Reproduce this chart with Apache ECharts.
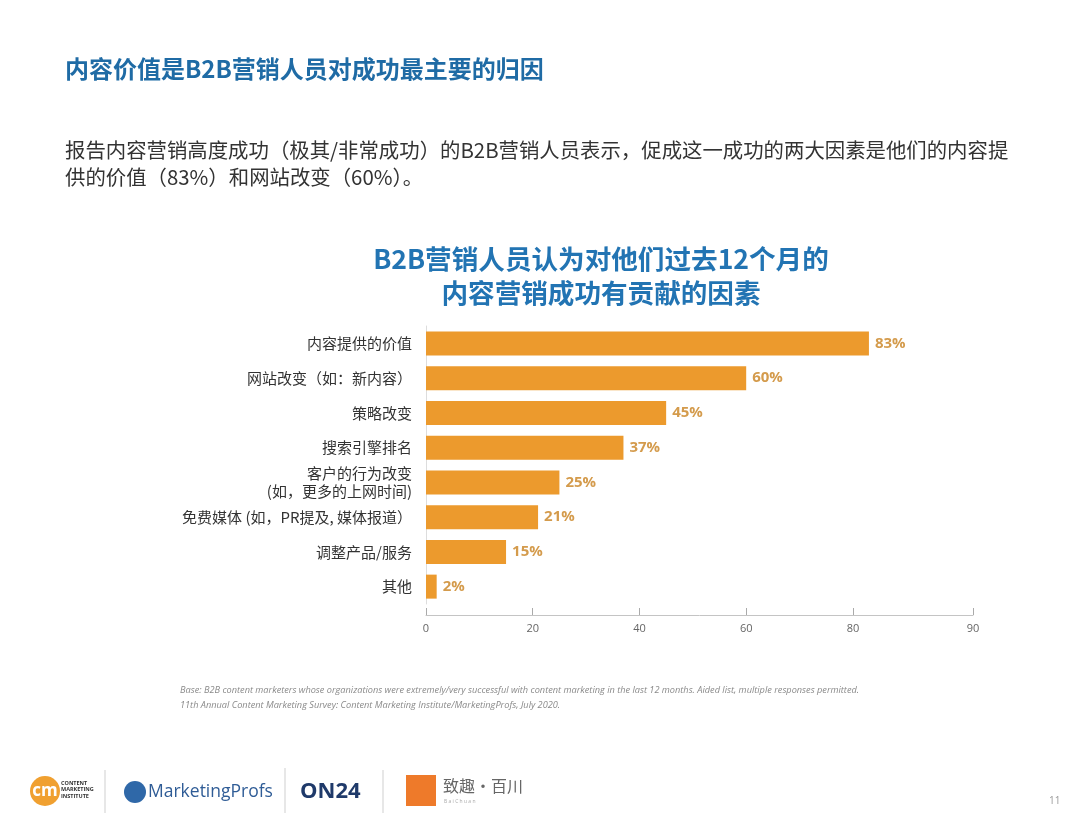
<!DOCTYPE html>
<html>
<head>
<meta charset="utf-8">
<script src="https://cdn.jsdelivr.net/npm/echarts@6/dist/echarts.min.js"></script>
<style>
html,body{margin:0;padding:0;background:#fff;}
#main{width:1080px;height:825px;}
</style>
</head>
<body>
<div id="main"></div>
<script>
const categories = ['内容提供的价值','网站改变（如：新内容）','策略改变','搜索引擎排名','客户的行为改变\n(如，更多的上网时间)','免费媒体 (如，PR提及, 媒体报道）','调整产品/服务','其他'];
const values = [83, 60, 45, 37, 25, 21, 15, 2];
const tickLabels = ['0','20','40','60','80','90'];
const tickValues = [0, 20, 40, 60, 80, 102.5];
const AXIS_MAX = 102.5;

const CJK = '"Noto Sans CJK SC", "Noto Sans", sans-serif';
const chart = echarts.init(document.getElementById('main'), null, {renderer:'canvas'});

const option = {
  backgroundColor:'#ffffff',
  animation:false,
  textStyle:{fontFamily:CJK},
  title:[
    {text:'内容价值是B2B营销人员对成功最主要的归因', left:60, top:52,
     textStyle:{fontSize:24, fontWeight:'bold', color:'#1F6BA5', fontFamily:CJK}},
    {text:'报告内容营销高度成功（极其/非常成功）的B2B营销人员表示，促成这一成功的两大因素是他们的内容提\n供的价值（83%）和网站改变（60%）。', left:60, top:132,
     textStyle:{fontSize:20.4, fontWeight:'normal', color:'#333333', lineHeight:27, fontFamily:CJK}},
    {text:'B2B营销人员认为对他们过去12个月的\n内容营销成功有贡献的因素', left:596, top:237, textAlign:'center',
     textStyle:{fontSize:26.6, fontWeight:'bold', color:'#2274B3', lineHeight:34, fontFamily:CJK}},
    {text:'Base: B2B content marketers whose organizations were extremely/very successful with content marketing in the last 12 months. Aided list, multiple responses permitted.\n11th Annual Content Marketing Survey: Content Marketing Institute/MarketingProfs, July 2020.', left:175, top:678,
     textStyle:{fontSize:9.2, fontStyle:'italic', fontWeight:'normal', color:'#8a8a8a', lineHeight:15, fontFamily:'"Open Sans", sans-serif'}},
    {text:'11', left:1044, top:791, textStyle:{fontSize:10, fontWeight:'normal', color:'#999', fontFamily:'"Open Sans", sans-serif'}}
  ],
  grid:{left:426, right:107, top:326, height:278, containLabel:false},
  xAxis:{
    type:'value', min:0, max:AXIS_MAX, offset:11,
    splitLine:{show:false},
    axisLine:{show:true, lineStyle:{color:'#c4c4c4', width:1}},
    axisTick:{show:true, inside:true, length:7, customValues:tickValues, lineStyle:{color:'#aaaaaa'}},
    axisLabel:{customValues:tickValues, color:'#666', fontSize:11, margin:8, fontFamily:'"Open Sans", sans-serif',
      formatter:function(v){const i=tickValues.indexOf(v); return i>=0?tickLabels[i]:'';}}
  },
  yAxis:{
    type:'category', data:categories, inverse:true,
    axisLine:{show:true, lineStyle:{color:'#dddddd'}},
    axisTick:{show:false},
    axisLabel:{color:'#333', fontSize:15, margin:14, lineHeight:18, fontFamily:CJK}
  },
  series:[{
    type:'bar', data:values, barWidth:24,
    itemStyle:{color:'#EC9A2D'},
    label:{show:true, position:'right', distance:6, formatter:'{c}%', color:'#D49B4C', fontSize:15, fontWeight:'bold', fontFamily:'"Open Sans", sans-serif'}
  }],
  graphic:[
    {type:'circle', shape:{cx:45, cy:791, r:15}, style:{fill:'#F0A030'}},
    {type:'text', style:{x:45, y:791, text:'cm', fill:'#fff', fontSize:17, fontWeight:'bold', align:'center', verticalAlign:'middle', fontFamily:'"Open Sans", sans-serif'}},
    {type:'text', style:{x:61, y:780, text:'CONTENT\nMARKETING\nINSTITUTE', fill:'#333', fontSize:5.5, fontWeight:'bold', lineHeight:6.5, fontFamily:'"Open Sans", sans-serif'}},
    {type:'line', shape:{x1:105, y1:770, x2:105, y2:813}, style:{stroke:'#cfcfcf', lineWidth:1}},
    {type:'circle', shape:{cx:135, cy:792, r:11}, style:{fill:'#2F68A8'}},
    {type:'text', style:{x:148, y:792, text:'MarketingProfs', fill:'#2F5C96', fontSize:17.5, verticalAlign:'middle', fontFamily:'"Open Sans", sans-serif'}},
    {type:'line', shape:{x1:285, y1:768, x2:285, y2:813}, style:{stroke:'#cfcfcf', lineWidth:1}},
    {type:'text', style:{x:300, y:792, text:'ON24', fill:'#1F3A6A', fontSize:22, fontWeight:'bold', verticalAlign:'middle', fontFamily:'"Open Sans", sans-serif'}},
    {type:'line', shape:{x1:383, y1:770, x2:383, y2:813}, style:{stroke:'#cfcfcf', lineWidth:1}},
    {type:'rect', shape:{x:406, y:775, width:30, height:31}, style:{fill:'#EE7A2A'}},
    {type:'text', style:{x:443, y:786, text:'致趣·百川', fill:'#666', fontSize:16, verticalAlign:'middle', fontFamily:CJK}},
    {type:'text', style:{x:444, y:802, text:'B a i C h u a n', fill:'#aaa', fontSize:5, verticalAlign:'middle', fontFamily:'"Open Sans", sans-serif'}}
  ]
};
chart.setOption(option);
</script>
</body>
</html>
